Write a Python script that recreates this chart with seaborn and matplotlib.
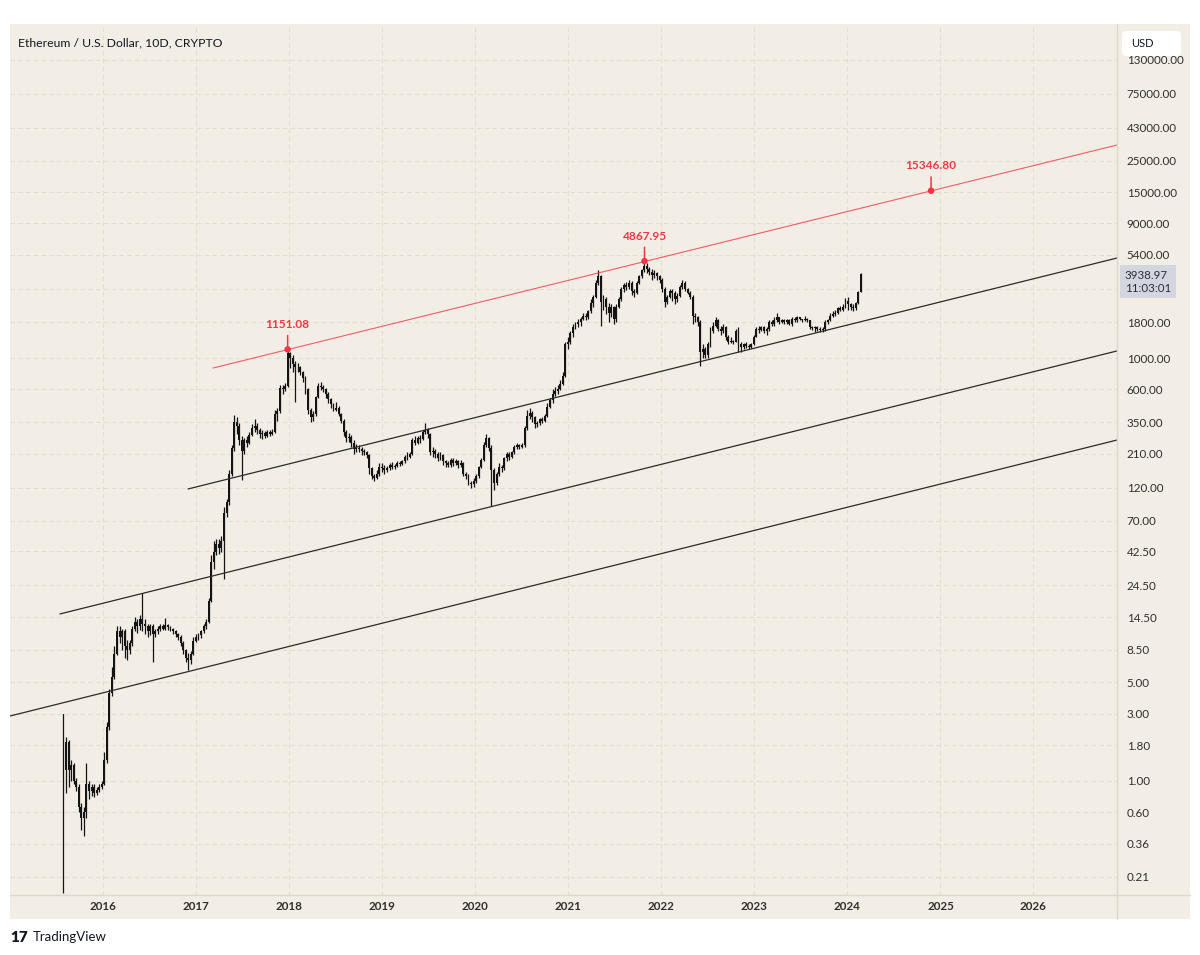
import pandas as pd
import matplotlib
matplotlib.use("Agg")
import matplotlib.pyplot as plt
from matplotlib.patches import Rectangle, FancyBboxPatch
from matplotlib.lines import Line2D
from matplotlib.ticker import FixedLocator, FuncFormatter, NullLocator
from matplotlib.transforms import blended_transform_factory
import seaborn as sns

# -----------------------
# Data (10D candles, ETH / USD, CRYPTO index)
# -----------------------
start_date = "2015-07-30"
first_open = 3.0

closes = [
    1.2, 1.9, 1.2, 1.3, 1.0, 0.9, 0.65, 0.55, 0.6, 0.95,
    0.85, 0.9, 0.82, 0.86, 0.9, 0.95, 1.4, 2.4, 4.2, 5.5,
    8.0, 11.5, 10.5, 11.5, 9.0, 8.5, 9.5, 12.0, 13.5, 12.5,
    14.0, 13.0, 12.5, 11.5, 12.5, 11.0, 11.5, 12.0, 12.5, 12.0,
    12.8, 12.3, 12.0, 11.5, 11.0, 10.5, 9.5, 8.5, 7.5, 7.2,
    8.0, 9.8, 10.5, 10.8, 11.5, 12.5, 13.5, 19.0, 36, 42,
    48, 45, 50, 80, 95, 150, 230, 350, 330, 260,
    220, 260, 250, 285, 320, 330, 310, 290, 295, 280,
    300, 290, 300, 400, 420, 610, 600, 630, 1080, 1000,
    900, 870, 860, 800, 720, 600, 430, 380, 400, 530,
    630, 620, 600, 560, 510, 470, 430, 440, 400, 360,
    300, 270, 275, 250, 225, 230, 225, 220, 215, 205,
    165, 145, 140, 150, 170, 165, 160, 165, 175, 168,
    172, 180, 178, 185, 200, 198, 210, 260, 250, 270,
    265, 300, 310, 290, 215, 220, 210, 195, 205, 185,
    180, 175, 190, 180, 185, 175, 180, 150, 145, 130,
    128, 135, 145, 168, 190, 240, 270, 230, 160, 130,
    150, 170, 165, 195, 210, 200, 215, 235, 240, 235,
    240, 320, 390, 410, 380, 340, 345, 370, 355, 385,
    450, 500, 560, 580, 600, 650, 740, 1250, 1300, 1500,
    1650, 1750, 1800, 1900, 2000, 1950, 2150, 2450, 2700, 3400,
    3800, 2500, 2600, 2300, 2100, 2300, 1900, 2300, 2600, 3100,
    3300, 3200, 3400, 3000, 2900, 3400, 3800, 4200, 4500, 4300,
    4100, 3900, 4000, 3800, 3600, 3100, 2500, 2700, 3000, 2900,
    2600, 2750, 3200, 3400, 3100, 2900, 2700, 2000, 1950, 1800,
    1100, 1150, 1050, 1250, 1550, 1700, 1850, 1600, 1550, 1650,
    1400, 1300, 1330, 1300, 1550, 1250, 1200, 1250, 1220, 1200,
    1250, 1420, 1600, 1580, 1650, 1550, 1600, 1800, 1750, 1850,
    1950, 1800, 1850, 1800, 1850, 1750, 1900, 1850, 1950, 1880,
    1850, 1900, 1850, 1650, 1620, 1650, 1600, 1580, 1600, 1800,
    1850, 2000, 2050, 2100, 2250, 2200, 2300, 2550, 2400, 2300,
    2250, 2450, 2950, 3938.97,
]

highs = [
    3.0, 2.05, 1.95, 1.4, 1.35, 1.05, 0.95, 0.7, 0.65, 1.34,
    1.0, 0.95, 0.95, 0.9, 0.95, 1.0, 1.6, 2.6, 4.5, 6.4,
    9.0, 12.5, 12.5, 12.0, 12.0, 10.0, 10.0, 12.5, 14.5, 14.0,
    15.0, 21.5, 14.0, 13.0, 13.0, 13.0, 12.0, 12.5, 13.0, 13.0,
    14.3, 13.0, 12.5, 12.2, 11.8, 11.2, 10.8, 9.8, 8.7, 8.1,
    8.4, 10.5, 11.0, 11.2, 11.8, 13.0, 14.0, 20.0, 40, 50,
    52, 52, 55, 88, 100, 160, 240, 394, 380, 345,
    280, 270, 280, 300, 340, 370, 345, 320, 310, 305,
    310, 310, 315, 430, 440, 640, 640, 660, 1151.08, 1100,
    1050, 950, 920, 880, 810, 740, 610, 440, 420, 540,
    660, 680, 640, 610, 570, 520, 480, 490, 460, 410,
    370, 310, 295, 285, 260, 245, 240, 235, 225, 220,
    210, 170, 150, 160, 180, 180, 175, 172, 180, 182,
    178, 185, 186, 190, 205, 215, 215, 270, 280, 280,
    285, 310, 346, 320, 295, 235, 225, 215, 215, 210,
    190, 185, 195, 195, 192, 190, 190, 182, 155, 150,
    135, 140, 150, 172, 195, 255, 290, 275, 240, 165,
    155, 180, 175, 200, 215, 215, 220, 240, 250, 245,
    248, 330, 428, 440, 420, 390, 360, 375, 380, 400,
    480, 520, 600, 620, 640, 700, 800, 1300, 1400, 1550,
    1750, 1800, 1900, 1950, 2100, 2100, 2200, 2600, 2800, 3550,
    4207, 3900, 2800, 2700, 2450, 2400, 2350, 2400, 2700, 3200,
    3400, 3450, 3600, 3500, 3100, 3500, 3900, 4300, 4867.95, 4700,
    4400, 4300, 4200, 4100, 3900, 3700, 3200, 2800, 3100, 3100,
    3000, 2900, 3300, 3550, 3500, 3150, 3000, 2800, 2100, 2000,
    1850, 1250, 1200, 1300, 1650, 1800, 1950, 1900, 1700, 1750,
    1700, 1450, 1400, 1350, 1600, 1650, 1300, 1280, 1300, 1250,
    1280, 1450, 1650, 1680, 1700, 1700, 1650, 1850, 1850, 1950,
    2100, 1950, 1900, 1900, 1880, 1880, 1950, 1950, 2000, 1950,
    1900, 2000, 1920, 1850, 1700, 1680, 1700, 1650, 1650, 1850,
    1900, 2100, 2150, 2200, 2300, 2350, 2400, 2650, 2700, 2450,
    2400, 2500, 3000, 3980,
]

lows = [
    0.16, 0.82, 0.9, 1.0, 0.95, 0.85, 0.6, 0.45, 0.41, 0.55,
    0.75, 0.78, 0.77, 0.8, 0.83, 0.88, 0.93, 1.35, 2.3, 4.0,
    5.3, 7.8, 9.5, 8.5, 7.5, 7.2, 8.0, 9.0, 11.5, 11.2,
    11.8, 11.5, 11.0, 10.5, 10.8, 7.0, 10.5, 11.0, 11.5, 11.7,
    11.8, 11.8, 11.5, 11.0, 10.5, 10.0, 9.0, 8.0, 7.0, 6.1,
    6.8, 7.8, 9.6, 10.0, 10.4, 11.2, 12.0, 13.2, 18.5, 32,
    40, 41, 42, 27, 75, 90, 145, 220, 290, 240,
    136, 210, 235, 245, 280, 300, 290, 270, 265, 270,
    275, 280, 285, 295, 360, 410, 560, 580, 620, 850,
    800, 490, 800, 760, 680, 560, 400, 350, 360, 390,
    520, 590, 570, 520, 480, 440, 420, 420, 390, 345,
    280, 255, 255, 235, 210, 215, 215, 205, 205, 195,
    150, 138, 135, 138, 145, 155, 150, 155, 160, 162,
    163, 168, 172, 175, 180, 190, 195, 205, 240, 245,
    250, 262, 290, 270, 205, 200, 195, 185, 190, 175,
    170, 168, 170, 172, 175, 165, 170, 145, 138, 125,
    120, 122, 130, 142, 165, 185, 235, 220, 89, 115,
    125, 145, 155, 160, 185, 190, 195, 210, 225, 228,
    230, 235, 310, 370, 350, 320, 325, 335, 345, 350,
    380, 440, 480, 540, 560, 590, 640, 730, 1150, 1250,
    1400, 1600, 1650, 1700, 1850, 1850, 1900, 2100, 2300, 2650,
    3300, 1700, 2200, 2050, 1800, 1950, 1750, 1800, 2250, 2550,
    2950, 3050, 3100, 2800, 2700, 2850, 3350, 3700, 4100, 4000,
    3900, 3600, 3700, 3600, 3400, 2950, 2300, 2400, 2650, 2550,
    2400, 2500, 2700, 3100, 3000, 2850, 2600, 1750, 1800, 1700,
    880, 1000, 1000, 1000, 1200, 1500, 1650, 1550, 1450, 1500,
    1350, 1250, 1270, 1250, 1290, 1100, 1100, 1150, 1180, 1150,
    1180, 1230, 1400, 1500, 1550, 1500, 1450, 1550, 1700, 1700,
    1800, 1750, 1780, 1750, 1750, 1720, 1700, 1800, 1800, 1850,
    1800, 1830, 1800, 1600, 1580, 1530, 1550, 1520, 1540, 1560,
    1750, 1820, 1950, 2000, 2050, 2150, 2150, 2250, 2200, 2200,
    2150, 2200, 2400, 2950,
]

# trend / channel lines (start point, right edge point)
channel_start_dates = ["2016-11-30", "2015-07-16", "2015-01-01"]
channel_start_prices = [117.8, 15.3, 2.89]
channel_end_prices = [5118, 1122, 262]
red_start_date = "2017-03-08"
red_start_price = 849
red_end_price = 32400
edge_date = "2026-11-25"

# marked points on the red line
mark_dates = ["2017-12-26", "2021-10-27", "2024-11-25"]
mark_prices = [1151.08, 4867.95, 15346.80]

ytick_values = [130000, 75000, 43000, 25000, 15000, 9000, 5400, 3100, 1800,
                1000, 600, 350, 210, 120, 70, 42.5, 24.5, 14.5, 8.5, 5, 3,
                1.8, 1, 0.6, 0.36, 0.21]
years = list(range(2016, 2027))

last_price = closes[-1]
last_time = "11:03:01"

# -----------------------
# Style
# -----------------------
sns.set_theme(style="white")
plt.rcParams["font.family"] = ["Lato", "DejaVu Sans"]

W, H = 1200, 955
bg = "#f2eee6"
candle_col = "#141414"
red = "#f23645"
sep_col = "#ddd8ce"

fig = plt.figure(figsize=(12, 9.55), dpi=100)
fig.patch.set_facecolor("white")
fig.patches.append(Rectangle((10 / W, 1 - 919 / H), 1180 / W, (919 - 24) / H,
                             transform=fig.transFigure, facecolor=bg,
                             edgecolor="none", zorder=-1))

ax = fig.add_axes([10 / W, 1 - 895 / H, 1107 / W, 871 / H])
ax.set_facecolor(bg)
ax.set_yscale("log")

# -----------------------
# Candles
# -----------------------
df = pd.DataFrame({
    "date": pd.date_range(start_date, periods=len(closes), freq="10D"),
    "open": [first_open] + closes[:-1],
    "high": highs,
    "low": lows,
    "close": closes,
})
body_lo = df[["open", "close"]].min(axis=1)
body_hi = df[["open", "close"]].max(axis=1)

ax.vlines(df["date"], df["low"], df["high"], color=candle_col, lw=0.9, zorder=3)
ax.bar(df["date"], body_hi - body_lo, bottom=body_lo, width=7.5,
       color=candle_col, linewidth=0, zorder=3)

# -----------------------
# Channel lines
# -----------------------
rows = []
for k in range(len(channel_start_dates)):
    rows.append({"date": pd.Timestamp(channel_start_dates[k]), "price": channel_start_prices[k], "line": k})
    rows.append({"date": pd.Timestamp(edge_date), "price": channel_end_prices[k], "line": k})
lines_df = pd.DataFrame(rows)
sns.lineplot(data=lines_df, x="date", y="price", units="line", estimator=None,
             color="#2b2b2b", lw=0.9, ax=ax, zorder=4)

red_df = pd.DataFrame({"date": pd.to_datetime([red_start_date, edge_date]),
                       "price": [red_start_price, red_end_price]})
sns.lineplot(data=red_df, x="date", y="price", color=red, lw=0.8, alpha=0.8,
             ax=ax, zorder=4)

marks = pd.DataFrame({"date": pd.to_datetime(mark_dates), "price": mark_prices})
sns.scatterplot(data=marks, x="date", y="price", color=red, s=22,
                edgecolor="none", ax=ax, zorder=6)
for d, p in zip(marks["date"], marks["price"]):
    ax.annotate("", xy=(d, p), xytext=(0, 10), textcoords="offset points",
                arrowprops=dict(arrowstyle="-", color=red, lw=1.1,
                                shrinkA=0, shrinkB=0), zorder=6)
    ax.annotate(f"{p:.2f}", xy=(d, p), xytext=(0, 18), textcoords="offset points",
                ha="center", va="center", fontsize=8.6, fontweight="bold",
                color=red, zorder=6)

# -----------------------
# Axes
# -----------------------
ax.set_xlim(pd.Timestamp("2015-01-01"), pd.Timestamp(edge_date))
ax.set_ylim(0.1554, 233800)
ax.set_xlabel("")
ax.set_ylabel("")

ax.yaxis.tick_right()
ax.yaxis.set_major_locator(FixedLocator(ytick_values))
ax.yaxis.set_major_formatter(FuncFormatter(lambda v, pos: "" if abs(v - 3100) < 1 else f"{v:.2f}"))
ax.yaxis.set_minor_locator(NullLocator())
ax.set_xticks([pd.Timestamp(f"{y}-01-01") for y in years])
ax.set_xticklabels([str(y) for y in years])
ax.tick_params(axis="y", length=0, pad=7, labelsize=8.4, labelcolor="#2f2f2f")
ax.tick_params(axis="x", length=0, pad=4.5, labelsize=8.4, labelcolor="#2f2f2f")
for lbl in ax.get_xticklabels():
    lbl.set_fontweight("bold")

ax.grid(True, color="#e2ddd3", ls=(0, (4, 3)), lw=0.8)
ax.set_axisbelow(True)
for s in ax.spines.values():
    s.set_visible(False)

# separators of the price / time scales
fig.add_artist(Line2D([1117 / W, 1117 / W], [1 - 919 / H, 1 - 24 / H],
                      transform=fig.transFigure, color=sep_col, lw=1))
fig.add_artist(Line2D([10 / W, 1190 / W], [1 - 895 / H, 1 - 895 / H],
                      transform=fig.transFigure, color=sep_col, lw=1))

# last price label
trans = blended_transform_factory(ax.transAxes, ax.transData)
ax.annotate(f"{last_price:.2f}\n{last_time}", xy=(1.0, last_price), xycoords=trans,
            xytext=(5.5, -5.5), textcoords="offset points", ha="left", va="center",
            fontsize=8.3, color="#2a2e39", linespacing=1.2,
            bbox=dict(boxstyle="square,pad=0.4", fc="#d3d6de", ec="none"),
            annotation_clip=False, zorder=7)

# header / currency button
fig.text(18 / W, 1 - 43 / H, "Ethereum / U.S. Dollar, 10D, CRYPTO",
         fontsize=8.8, color="#131722", va="center")
fig.patches.append(FancyBboxPatch((1122 / W, 1 - 56 / H), 59 / W, 25 / H,
                                  boxstyle="round,pad=0,rounding_size=0.004",
                                  transform=fig.transFigure, fc="white",
                                  ec="none", zorder=2))
fig.text(1131 / W, 1 - 43.5 / H, "USD", fontsize=8, color="#131722",
         va="center", zorder=3)

# footer
fig.text(10 / W, 1 - 937 / H, "17", fontsize=11, fontweight="heavy",
         color="#131722", va="center")
fig.text(33 / W, 1 - 937 / H, "TradingView", fontsize=9.5, color="#131722",
         va="center")

fig.savefig("out.png", dpi=100, facecolor="white")
